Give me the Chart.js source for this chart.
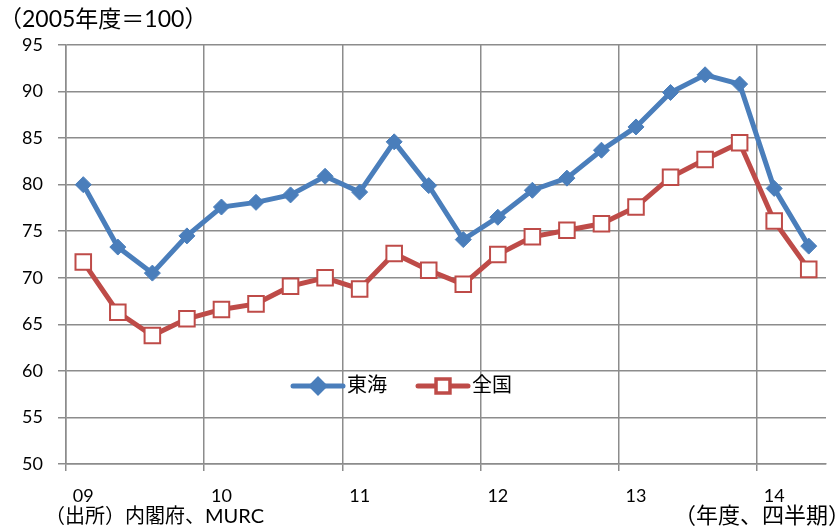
<!DOCTYPE html>
<html lang="ja">
<head>
<meta charset="utf-8">
<script src="https://cdn.jsdelivr.net/npm/chart.js@4.4.1/dist/chart.umd.min.js"></script>
<style>
  html, body { margin: 0; padding: 0; background: #fff; }
  #wrap { width: 839px; height: 531px; }
</style>
</head>
<body>
<div id="wrap"><canvas id="chart-tokai-index" width="839" height="531"></canvas></div>
<script>
// 年度・四半期（2009年度1Q〜2014年度2Q）
const quarters = [
  '09-1', '09-2', '09-3', '09-4',
  '10-1', '10-2', '10-3', '10-4',
  '11-1', '11-2', '11-3', '11-4',
  '12-1', '12-2', '12-3', '12-4',
  '13-1', '13-2', '13-3', '13-4',
  '14-1', '14-2'
];
const yearTicks = ['09', '10', '11', '12', '13', '14'];

const tokai = [80.0, 73.3, 70.5, 74.5, 77.6, 78.1, 78.9, 80.9, 79.2, 84.6, 79.9, 74.1,
               76.5, 79.4, 80.7, 83.7, 86.2, 89.9, 91.8, 90.8, 79.6, 73.4];
const zenkoku = [71.7, 66.3, 63.8, 65.6, 66.6, 67.2, 69.1, 70.0, 68.8, 72.6, 70.8, 69.3,
                 72.5, 74.4, 75.1, 75.8, 77.6, 80.8, 82.7, 84.5, 76.1, 70.9];

const BLUE = '#4a7ebb';
const RED = '#be4b48';
const GRID = '#8c8c8c';
const FONT = 'Lato, "Noto Sans CJK JP", sans-serif';

// 年の区切りだけ縦線を引く
const yearLine = (ctx) => (ctx.index % 4 === 0 ? GRID : 'rgba(0,0,0,0)');

// 単位・出所・凡例
const notes = {
  id: 'notes',
  afterDraw(chart) {
    const c = chart.ctx;
    c.save();
    c.fillStyle = '#000';
    c.textBaseline = 'middle';
    c.textAlign = 'left';
    c.font = '23px ' + FONT;
    c.fillText('（2005年度＝100）', -1, 20);
    c.font = '22px ' + FONT;
    c.textAlign = 'right';
    c.fillText('（年度、四半期）', 850, 516);

    c.textAlign = 'left';
    c.font = '20px ' + FONT;
    const src = '（出所）内閣府、';
    c.fillText(src, 45, 517);
    c.fillText('MURC', 45 + c.measureText(src).width, 517);

    // 凡例
    const ly = 386;
    const items = [
      { ds: chart.data.datasets[0], x: 293 },
      { ds: chart.data.datasets[1], x: 418 }
    ];
    items.forEach(({ ds, x }) => {
      c.strokeStyle = ds.borderColor;
      c.lineWidth = ds.borderWidth;
      c.lineCap = 'round';
      c.beginPath();
      c.moveTo(x, ly);
      c.lineTo(x + 50, ly);
      c.stroke();
      Chart.helpers.drawPoint(c, {
        pointStyle: ds.pointStyle,
        radius: ds.pointRadius * 0.8,
        borderWidth: ds.pointBorderWidth
      }, x + 25, ly);
      c.fillStyle = ds.pointBackgroundColor;
      c.strokeStyle = ds.pointBorderColor;
      c.lineWidth = ds.pointBorderWidth;
      c.fill();
      c.stroke();
      c.fillStyle = '#000';
      c.fillText(ds.label, x + 54, ly);
    });
    c.restore();
  }
};

const data = {
  labels: quarters,
  datasets: [{
    label: '東海',
    data: tokai,
    borderColor: BLUE,
    borderWidth: 5,
    pointStyle: 'rectRot',
    pointRadius: 8,
    pointBackgroundColor: BLUE,
    pointBorderColor: BLUE,
    pointBorderWidth: 1,
    tension: 0
  },
  {
    label: '全国',
    data: zenkoku,
    borderColor: RED,
    borderWidth: 5,
    pointStyle: 'rect',
    pointRadius: 11,
    pointBackgroundColor: '#ffffff',
    pointBorderColor: RED,
    pointBorderWidth: 2,
    tension: 0
  }]
};

new Chart(document.getElementById('chart-tokai-index'), {
  type: 'line',
  data: data,
  options: {
    responsive: false,
    animation: false,
    layout: { padding: { top: 45, right: 13, bottom: 0, left: 0 } },
    plugins: {
      legend: { display: false },
      title: { display: false },
      tooltip: { enabled: false }
    },
    scales: {
      x: {
        offset: true,
        grid: {
          offset: true,
          color: yearLine,
          tickColor: yearLine,
          lineWidth: 1.5,
          tickLength: 7
        },
        border: { color: GRID, width: 1.5 },
        ticks: {
          autoSkip: false,
          maxRotation: 0,
          padding: 14,
          color: '#000',
          font: { family: FONT, size: 18 },
          callback: (val, i) => (i % 4 === 0 ? yearTicks[i / 4] : '')
        },
        afterFit: (scale) => { scale.height = 67; }
      },
      y: {
        min: 50,
        max: 95,
        ticks: {
          stepSize: 5,
          padding: 15,
          color: '#000',
          font: { family: FONT, size: 18 }
        },
        grid: { color: GRID, lineWidth: 1.5, tickLength: 8 },
        border: { color: GRID, width: 1.5 },
        afterFit: (scale) => { scale.width = 66; }
      }
    }
  },
  plugins: [notes]
});
</script>
</body>
</html>
